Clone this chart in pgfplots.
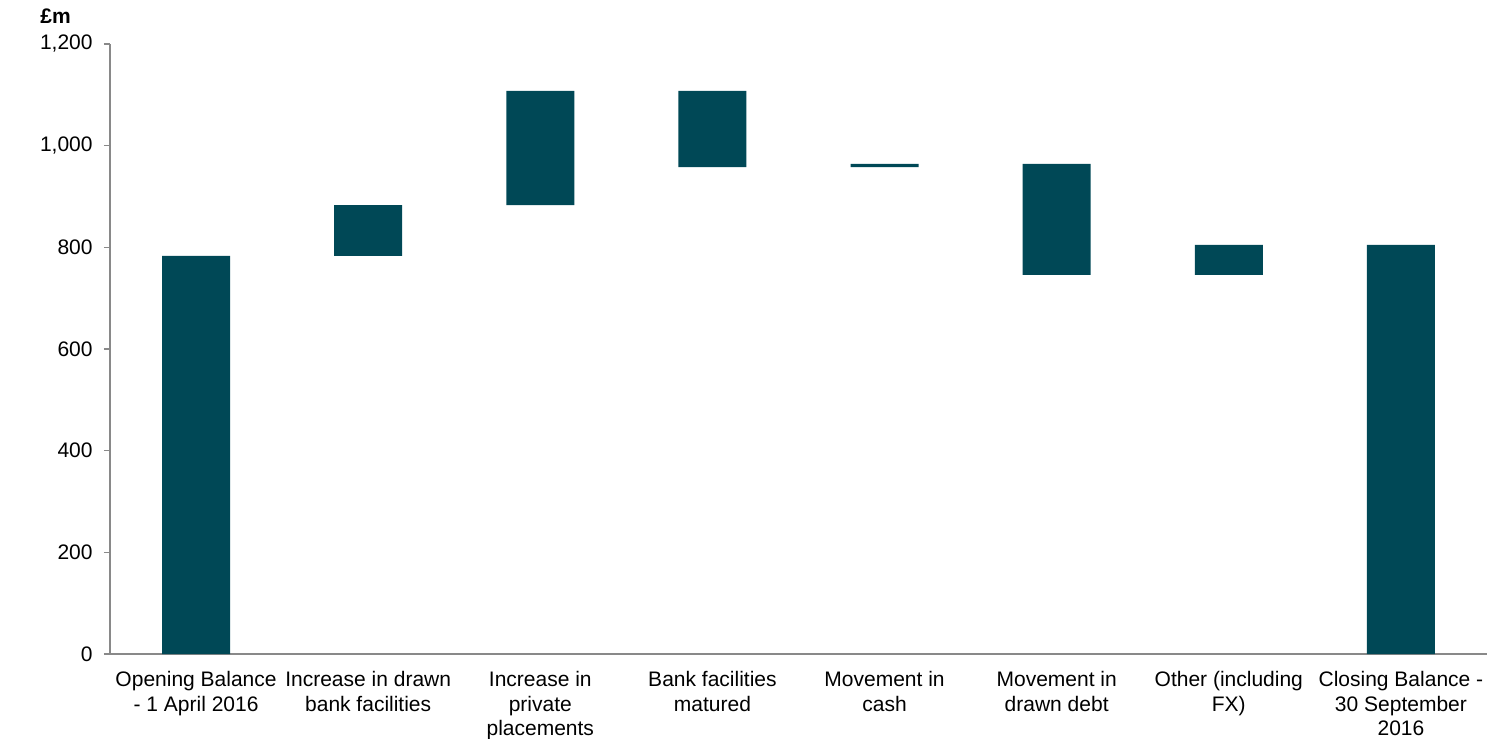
\documentclass[border=0pt]{standalone}
\usepackage{pgfplots}
\pgfplotsset{compat=1.18}
\usepackage{fontspec}
\setmainfont{Liberation Sans}
\definecolor{barc}{RGB}{0,72,86}
\definecolor{axc}{RGB}{137,137,137}
\begin{document}
\fontsize{10.5bp}{12.25bp}\selectfont
\begin{tikzpicture}
\begin{axis}[
  scale only axis,
  width=688.5bp, height=305bp,
  xmin=-0.5, xmax=7.5,
  ymin=0, ymax=1200,
  ytick={0,200,...,1200},
  axis x line=bottom, axis y line=left,
  axis line style={-, draw=axc, line width=0.8pt},
  ybar stacked,
  bar width=34bp,
  xtick={0,...,7},
  xticklabels={{Opening Balance\\- 1 April 2016},{Increase in drawn\\bank facilities},{Increase in\\private\\placements},{Bank facilities\\matured},{Movement in\\cash},{Movement in\\drawn debt},{Other (including\\FX)},{Closing Balance -\\30 September\\2016}},
  xticklabel style={align=center, font=\fontsize{10.5bp}{12.25bp}\selectfont, yshift=-2bp},
  yticklabel style={font=\fontsize{10.5bp}{12.25bp}\selectfont, xshift=-2bp},
  x tick style={draw=none},
  extra x ticks={-0.5,0.5,...,7.5},
  extra x tick labels={},
  extra x tick style={major tick length=4bp, tick style={draw=axc, line width=0.8pt}, tick align=outside},
  y tick style={draw=axc, line width=0.8pt},
  major tick length=3bp,
  tick align=outside,
  /pgf/number format/1000 sep={,},
  /pgf/number format/assume math mode=true,
  clip=false,
]
\addplot[draw=none, fill=none] coordinates {(0,0) (1,783) (2,883) (3,958) (4,958) (5,746) (6,746) (7,0)};
\addplot[draw=none, fill=barc] coordinates {(0,783) (1,100) (2,225) (3,150) (4,6) (5,218) (6,59) (7,805)};
\end{axis}
\node[anchor=west, inner sep=0pt, font=\bfseries\fontsize{10.5bp}{12.25bp}\selectfont] at (-35bp,319bp) {£m};
\pgfresetboundingbox
\path (-55bp,-42.5bp) rectangle (690.5bp,327bp);
\end{tikzpicture}
\end{document}
